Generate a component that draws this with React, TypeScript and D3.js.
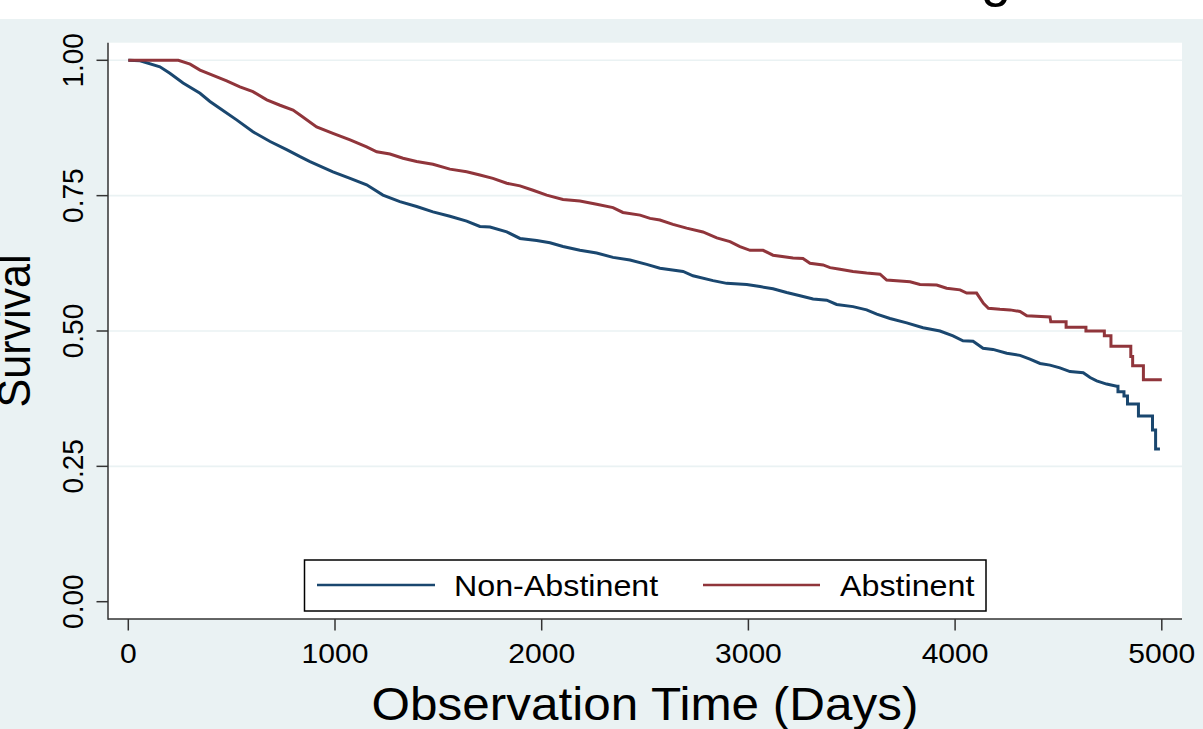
import React from "react";
import * as d3 from "d3";

const nonAbstDays = [0, 57, 153, 201, 265, 347, 395, 444, 524, 603, 686, 766, 831, 879, 990, 1073, 1153, 1232, 1314, 1395, 1474, 1556, 1637, 1701, 1750, 1831, 1895, 1976, 2040, 2103, 2185, 2266, 2345, 2427, 2508, 2572, 2684, 2732, 2829, 2895, 2992, 3056, 3119, 3185, 3250, 3313, 3379, 3427, 3506, 3572, 3621, 3685, 3766, 3845, 3927, 3990, 4038, 4087, 4135, 4183, 4250, 4314, 4362, 4411, 4459, 4507, 4556, 4620, 4653, 4685, 4733, 4782, 4788, 4788, 4817, 4817, 4834, 4834, 4887, 4887, 4955, 4955, 4970, 4970, 4991];
const nonAbstSurv = [1.0, 0.999, 0.988, 0.976, 0.958, 0.939, 0.924, 0.911, 0.89, 0.868, 0.85, 0.835, 0.822, 0.813, 0.794, 0.782, 0.77, 0.751, 0.739, 0.73, 0.72, 0.712, 0.703, 0.693, 0.692, 0.683, 0.671, 0.667, 0.663, 0.656, 0.649, 0.644, 0.636, 0.631, 0.623, 0.616, 0.61, 0.602, 0.593, 0.588, 0.586, 0.582, 0.578, 0.571, 0.565, 0.559, 0.557, 0.549, 0.545, 0.539, 0.531, 0.523, 0.515, 0.506, 0.5, 0.491, 0.482, 0.481, 0.468, 0.466, 0.459, 0.455, 0.448, 0.44, 0.437, 0.432, 0.425, 0.423, 0.414, 0.408, 0.402, 0.398, 0.398, 0.388, 0.388, 0.38, 0.38, 0.365, 0.365, 0.343, 0.343, 0.317, 0.317, 0.282, 0.282];

const abstDays = [0, 242, 299, 347, 410, 476, 540, 603, 670, 734, 797, 831, 911, 990, 1073, 1153, 1202, 1266, 1329, 1395, 1474, 1556, 1637, 1701, 1764, 1831, 1895, 1958, 2024, 2103, 2185, 2266, 2345, 2393, 2476, 2524, 2572, 2635, 2701, 2780, 2847, 2911, 2959, 3008, 3071, 3119, 3216, 3264, 3298, 3361, 3395, 3443, 3506, 3572, 3637, 3669, 3782, 3830, 3911, 3959, 4024, 4056, 4104, 4137, 4161, 4217, 4266, 4314, 4347, 4459, 4463, 4537, 4537, 4633, 4633, 4722, 4722, 4754, 4754, 4850, 4850, 4859, 4859, 4911, 4911, 5000];
const abstSurv = [1.0, 1.0, 0.993, 0.982, 0.972, 0.962, 0.951, 0.942, 0.927, 0.917, 0.908, 0.899, 0.877, 0.865, 0.853, 0.84, 0.831, 0.827, 0.819, 0.813, 0.808, 0.799, 0.794, 0.788, 0.782, 0.773, 0.768, 0.76, 0.751, 0.743, 0.74, 0.734, 0.728, 0.719, 0.714, 0.708, 0.705, 0.697, 0.69, 0.683, 0.672, 0.665, 0.656, 0.649, 0.649, 0.64, 0.635, 0.634, 0.625, 0.622, 0.617, 0.614, 0.61, 0.607, 0.605, 0.594, 0.591, 0.586, 0.585, 0.579, 0.576, 0.57, 0.57, 0.551, 0.542, 0.54, 0.539, 0.536, 0.528, 0.526, 0.517, 0.517, 0.507, 0.507, 0.5, 0.5, 0.491, 0.491, 0.472, 0.472, 0.453, 0.453, 0.436, 0.436, 0.41, 0.41];

const xTicks = [0, 1000, 2000, 3000, 4000, 5000];
const yTicks = [0, 0.25, 0.5, 0.75, 1.0];
const gridTicks = [0.25, 0.5, 0.75, 1.0];
const seriesNames = ["Non-Abstinent", "Abstinent"];
const xTitle = "Observation Time (Days)";
const yTitle = "Survival";

const W = 1203;
const H = 729;
const BG = "#EAF2F3";
const BLUE = "#1a476f";
const RED = "#90353b";
const AXIS = "#333333";
const FONT = "'Liberation Sans', Arial, Helvetica, sans-serif";
const SX = 1.075;

export default function App() {
  const x = d3.scaleLinear().domain([0, 5000]).range([128.3, 1161.8]);
  const y = d3.scaleLinear().domain([0, 1]).range([601.7, 60.3]);
  const plot = { x0: 108, x1: 1182, y0: 42.7, y1: 619 };

  const line = d3
    .line<[number, number]>()
    .x((d) => x(d[0]))
    .y((d) => y(d[1]))
    .curve(d3.curveLinear);

  const blueData = nonAbstDays.map((d, i) => [d, nonAbstSurv[i]] as [number, number]);
  const redData = abstDays.map((d, i) => [d, abstSurv[i]] as [number, number]);

  return (
    <div style={{ position: "absolute", left: 0, top: 0 }}>
      <svg width={W} height={H} style={{ display: "block" }}>
        <rect x={0} y={0} width={W} height={H} fill="#ffffff" />
        <rect x={0} y={19} width={W} height={H - 19} fill={BG} />
        {/* clipped title descender, as in the reference */}
        <text x={981} y={-4} fontFamily={FONT} fontSize={54} fill="#000">g</text>

        <rect x={plot.x0} y={plot.y0} width={plot.x1 - plot.x0} height={plot.y1 - plot.y0} fill="#ffffff" />
        {gridTicks.map((t) => (
          <line key={t} x1={plot.x0} x2={plot.x1} y1={y(t)} y2={y(t)} stroke={BG} strokeWidth={1.6} />
        ))}

        <path d={line(blueData) || ""} fill="none" stroke={BLUE} strokeWidth={3} strokeLinejoin="miter" />
        <path d={line(redData) || ""} fill="none" stroke={RED} strokeWidth={3} strokeLinejoin="miter" />

        {/* axes */}
        <line x1={plot.x0} x2={plot.x0} y1={plot.y0} y2={plot.y1 + 0.75} stroke={AXIS} strokeWidth={1.5} />
        <line x1={plot.x0} x2={plot.x1} y1={plot.y1} y2={plot.y1} stroke={AXIS} strokeWidth={1.5} />
        {yTicks.map((t) => (
          <g key={t}>
            <line x1={96.5} x2={plot.x0} y1={y(t)} y2={y(t)} stroke={AXIS} strokeWidth={1.5} />
            <text
              transform={`translate(83,${y(t)}) rotate(-90) scale(1,${SX})`}
              textAnchor="middle"
              fontFamily={FONT}
              fontSize={28}
              fill="#000"
            >
              {t.toFixed(2)}
            </text>
          </g>
        ))}
        {xTicks.map((t) => (
          <g key={t}>
            <line x1={x(t)} x2={x(t)} y1={plot.y1} y2={630.5} stroke={AXIS} strokeWidth={1.5} />
            <text
              transform={`translate(${x(t)},663) scale(${SX},1)`}
              textAnchor="middle"
              fontFamily={FONT}
              fontSize={28}
              fill="#000"
            >
              {t}
            </text>
          </g>
        ))}

        <text
          transform={`translate(645,720) scale(${SX},1)`}
          textAnchor="middle"
          fontFamily={FONT}
          fontSize={46}
          fill="#000"
        >
          {xTitle}
        </text>
        <text
          transform={`translate(30,331) rotate(-90) scale(1,${SX})`}
          textAnchor="middle"
          fontFamily={FONT}
          fontSize={43}
          fill="#000"
        >
          {yTitle}
        </text>

        {/* legend */}
        <rect x={304.5} y={560} width={681.5} height={51} fill="#ffffff" stroke="#000" strokeWidth={1.5} />
        <line x1={317} x2={435} y1={585} y2={585} stroke={BLUE} strokeWidth={2.6} />
        <text transform={`translate(454,596) scale(${SX},1)`} fontFamily={FONT} fontSize={30} fill="#000">
          {seriesNames[0]}
        </text>
        <line x1={703} x2={820} y1={585} y2={585} stroke={RED} strokeWidth={2.6} />
        <text transform={`translate(840,596) scale(${SX},1)`} fontFamily={FONT} fontSize={30} fill="#000">
          {seriesNames[1]}
        </text>
      </svg>
    </div>
  );
}
